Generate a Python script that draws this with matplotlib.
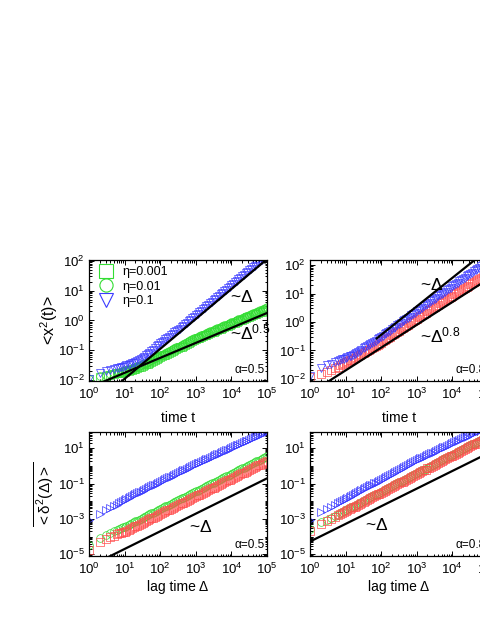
import numpy as np
import matplotlib
matplotlib.use("Agg")
import matplotlib.pyplot as plt
from matplotlib.ticker import LogLocator, LogFormatterSciNotation, NullFormatter

plt.rcParams['font.family'] = ['Liberation Sans', 'DejaVu Sans']
plt.rcParams['mathtext.fontset'] = 'custom'
plt.rcParams['mathtext.rm'] = 'Liberation Sans'
plt.rcParams['mathtext.it'] = 'Liberation Sans:italic'
plt.rcParams['mathtext.default'] = 'regular'

# time / lag time points (same sampling for every series)
t = [1, 2, 3, 4, 5, 6, 7, 8, 9,
     10, 11, 13, 14, 16, 18, 20, 22, 25, 28, 32, 35, 40, 45, 50, 56, 63, 71, 79, 89,
     100, 112, 126, 141, 158, 178, 200, 224, 251, 282, 316, 355, 398, 447, 501, 562, 631, 708, 794, 891,
     1000, 1122, 1259, 1413, 1585, 1778, 1995, 2239, 2512, 2818, 3162, 3548, 3981, 4467, 5012, 5623, 6310, 7079, 7943, 8913,
     10000, 11220, 12589, 14125, 15849, 17783, 19953, 22387, 25119, 28184, 31623, 35481, 39811, 44668, 50119, 56234, 63096, 70795, 79433, 89125,
     100000]

# log10 of the measured values, read off the figure
# top left, alpha=0.5, ensemble MSD
tl_green_sq = [-1.97, -1.88, -1.84, -1.81, -1.79, -1.77, -1.75, -1.74, -1.73,
               -1.72, -1.70, -1.69, -1.67, -1.65, -1.63, -1.61, -1.59, -1.57, -1.55, -1.52, -1.50, -1.47, -1.44, -1.41, -1.38, -1.35, -1.32, -1.29, -1.26,
               -1.23, -1.20, -1.17, -1.14, -1.11, -1.08, -1.05, -1.02, -0.99, -0.96, -0.93, -0.90, -0.87, -0.84, -0.81, -0.78, -0.75, -0.72, -0.69, -0.66,
               -0.63, -0.60, -0.58, -0.55, -0.53, -0.50, -0.47, -0.45, -0.42, -0.40, -0.37, -0.35, -0.32, -0.30, -0.27, -0.25, -0.22, -0.20, -0.17, -0.15,
               -0.12, -0.10, -0.07, -0.05, -0.02, 0.00, 0.03, 0.05, 0.08, 0.10, 0.13, 0.15, 0.18, 0.20, 0.23, 0.25, 0.28, 0.30, 0.33, 0.35,
               0.38]
tl_green_ci = [-1.95, -1.86, -1.81, -1.78, -1.76, -1.74, -1.72, -1.71, -1.69,
               -1.67, -1.66, -1.64, -1.62, -1.60, -1.58, -1.56, -1.53, -1.51, -1.49, -1.46, -1.43, -1.41, -1.38, -1.35, -1.32, -1.29, -1.26, -1.23, -1.20,
               -1.17, -1.14, -1.11, -1.08, -1.05, -1.02, -0.99, -0.96, -0.93, -0.90, -0.87, -0.84, -0.81, -0.78, -0.75, -0.72, -0.69, -0.66, -0.63, -0.60,
               -0.58, -0.55, -0.52, -0.50, -0.47, -0.44, -0.42, -0.39, -0.36, -0.34, -0.31, -0.29, -0.26, -0.24, -0.21, -0.19, -0.16, -0.14, -0.11, -0.09,
               -0.06, -0.04, -0.01, 0.01, 0.04, 0.06, 0.09, 0.11, 0.14, 0.16, 0.19, 0.21, 0.24, 0.26, 0.29, 0.31, 0.34, 0.36, 0.39, 0.41,
               0.44]
tl_blue = [-1.95, -1.76, -1.70, -1.66, -1.63, -1.60, -1.58, -1.56, -1.54,
           -1.52, -1.50, -1.48, -1.46, -1.43, -1.41, -1.38, -1.35, -1.32, -1.29, -1.25, -1.21, -1.17, -1.13, -1.08, -1.03, -0.97, -0.92, -0.86, -0.81,
           -0.76, -0.72, -0.67, -0.63, -0.58, -0.54, -0.49, -0.45, -0.40, -0.36, -0.31, -0.27, -0.22, -0.17, -0.12, -0.07, -0.02, 0.03, 0.08, 0.13,
           0.18, 0.23, 0.28, 0.33, 0.38, 0.43, 0.48, 0.53, 0.58, 0.63, 0.68, 0.73, 0.78, 0.83, 0.88, 0.93, 0.98, 1.03, 1.08, 1.13,
           1.18, 1.23, 1.28, 1.33, 1.38, 1.43, 1.48, 1.53, 1.58, 1.63, 1.68, 1.73, 1.78, 1.83, 1.88, 1.93, 1.98, 2.03, 2.08, 2.13,
           2.18]
# top right, alpha=0.8
tr_blue = [-1.90, -1.62, -1.52, -1.46, -1.41, -1.37, -1.34, -1.31, -1.29,
           -1.27, -1.24, -1.21, -1.18, -1.15, -1.12, -1.09, -1.05, -1.01, -0.97, -0.93, -0.89, -0.85, -0.81, -0.77, -0.73, -0.69, -0.65, -0.60, -0.56,
           -0.52, -0.48, -0.43, -0.39, -0.34, -0.30, -0.25, -0.21, -0.16, -0.12, -0.07, -0.03, 0.02, 0.06, 0.10, 0.15, 0.19, 0.24, 0.28, 0.33,
           0.37, 0.41, 0.46, 0.50, 0.55, 0.59, 0.63, 0.68, 0.72, 0.77, 0.81, 0.85, 0.90, 0.94, 0.99, 1.03, 1.07, 1.12, 1.16, 1.21,
           1.25, 1.29, 1.34, 1.38, 1.43, 1.47, 1.51, 1.56, 1.60, 1.65, 1.69, 1.73, 1.78, 1.82, 1.87, 1.91, 1.95, 2.00, 2.04, 2.09,
           2.13]
tr_red = [-1.93, -1.83, -1.75, -1.68, -1.62, -1.57, -1.52, -1.48, -1.44,
          -1.40, -1.37, -1.35, -1.32, -1.29, -1.26, -1.23, -1.20, -1.17, -1.14, -1.10, -1.06, -1.03, -0.99, -0.95, -0.91, -0.87, -0.83, -0.80, -0.76,
          -0.72, -0.68, -0.64, -0.59, -0.55, -0.51, -0.47, -0.43, -0.38, -0.34, -0.30, -0.26, -0.22, -0.17, -0.13, -0.09, -0.05, 0.00, 0.04, 0.08,
          0.12, 0.16, 0.20, 0.24, 0.29, 0.33, 0.37, 0.41, 0.45, 0.49, 0.53, 0.57, 0.61, 0.65, 0.69, 0.73, 0.77, 0.81, 0.85, 0.89,
          0.93, 0.97, 1.01, 1.05, 1.09, 1.13, 1.16, 1.20, 1.24, 1.28, 1.32, 1.36, 1.40, 1.44, 1.47, 1.51, 1.55, 1.59, 1.63, 1.66,
          1.70]
# bottom left, alpha=0.5, time averaged MSD
bl_blue = [-3.07, -2.70, -2.52, -2.40, -2.28, -2.19, -2.10, -2.03, -1.96,
           -1.90, -1.85, -1.80, -1.75, -1.70, -1.65, -1.60, -1.55, -1.50, -1.45, -1.40, -1.35, -1.30, -1.25, -1.20, -1.15, -1.10, -1.05, -1.00, -0.95,
           -0.90, -0.85, -0.80, -0.75, -0.70, -0.65, -0.60, -0.55, -0.50, -0.45, -0.40, -0.35, -0.30, -0.25, -0.20, -0.15, -0.10, -0.05, 0.00, 0.05,
           0.10, 0.15, 0.19, 0.24, 0.28, 0.33, 0.38, 0.42, 0.47, 0.52, 0.56, 0.61, 0.66, 0.70, 0.75, 0.79, 0.84, 0.89, 0.93, 0.98,
           1.03, 1.07, 1.12, 1.17, 1.21, 1.26, 1.31, 1.35, 1.40, 1.44, 1.49, 1.54, 1.58, 1.63, 1.68, 1.72, 1.77, 1.82, 1.86, 1.91,
           1.95]
bl_green = [-4.46, -4.09, -3.92, -3.80, -3.70, -3.62, -3.56, -3.50, -3.47,
            -3.44, -3.39, -3.34, -3.29, -3.24, -3.19, -3.14, -3.09, -3.04, -2.99, -2.94, -2.89, -2.84, -2.79, -2.74, -2.69, -2.64, -2.59, -2.54, -2.49,
            -2.44, -2.39, -2.34, -2.29, -2.24, -2.19, -2.14, -2.09, -2.04, -1.99, -1.94, -1.89, -1.84, -1.79, -1.74, -1.69, -1.64, -1.59, -1.54, -1.49,
            -1.44, -1.39, -1.34, -1.29, -1.24, -1.19, -1.14, -1.09, -1.04, -0.99, -0.94, -0.89, -0.84, -0.79, -0.74, -0.69, -0.64, -0.59, -0.54, -0.49,
            -0.44, -0.39, -0.34, -0.29, -0.24, -0.19, -0.14, -0.09, -0.04, 0.01, 0.06, 0.11, 0.16, 0.21, 0.26, 0.31, 0.36, 0.41, 0.46, 0.51,
            0.56]
bl_red = [-4.74, -4.28, -4.12, -4.02, -3.94, -3.87, -3.82, -3.78, -3.75,
          -3.72, -3.67, -3.62, -3.57, -3.52, -3.47, -3.42, -3.37, -3.32, -3.27, -3.22, -3.17, -3.12, -3.07, -3.02, -2.97, -2.92, -2.87, -2.82, -2.77,
          -2.72, -2.67, -2.62, -2.57, -2.52, -2.47, -2.42, -2.37, -2.32, -2.27, -2.22, -2.17, -2.12, -2.07, -2.02, -1.97, -1.92, -1.87, -1.82, -1.77,
          -1.72, -1.67, -1.62, -1.57, -1.52, -1.47, -1.42, -1.37, -1.32, -1.27, -1.22, -1.17, -1.12, -1.07, -1.02, -0.97, -0.92, -0.87, -0.82, -0.77,
          -0.72, -0.67, -0.62, -0.57, -0.52, -0.47, -0.42, -0.37, -0.32, -0.27, -0.22, -0.17, -0.12, -0.07, -0.02, 0.03, 0.08, 0.13, 0.18, 0.23,
          0.28]
# bottom right, alpha=0.8
br_blue = [-3.07, -2.61, -2.45, -2.33, -2.21, -2.11, -2.04, -1.97, -1.92,
           -1.87, -1.82, -1.76, -1.71, -1.65, -1.60, -1.54, -1.49, -1.43, -1.38, -1.32, -1.27, -1.21, -1.16, -1.10, -1.05, -0.99, -0.94, -0.88, -0.83,
           -0.77, -0.72, -0.66, -0.61, -0.55, -0.50, -0.44, -0.39, -0.33, -0.28, -0.22, -0.17, -0.11, -0.06, 0.00, 0.05, 0.11, 0.16, 0.22, 0.27,
           0.33, 0.38, 0.43, 0.47, 0.52, 0.57, 0.62, 0.67, 0.71, 0.76, 0.81, 0.86, 0.91, 0.95, 1.00, 1.05, 1.10, 1.15, 1.19, 1.24,
           1.29, 1.34, 1.39, 1.43, 1.48, 1.53, 1.58, 1.63, 1.67, 1.72, 1.77, 1.82, 1.87, 1.91, 1.96, 2.01, 2.06, 2.11, 2.15, 2.20,
           2.25]
br_green = [-3.54, -3.17, -3.03, -2.92, -2.83, -2.75, -2.69, -2.63, -2.57,
            -2.51, -2.46, -2.40, -2.35, -2.30, -2.25, -2.19, -2.14, -2.09, -2.04, -1.98, -1.93, -1.88, -1.83, -1.77, -1.72, -1.67, -1.62, -1.56, -1.51,
            -1.46, -1.41, -1.35, -1.30, -1.25, -1.20, -1.14, -1.09, -1.04, -0.99, -0.93, -0.88, -0.83, -0.78, -0.72, -0.67, -0.62, -0.57, -0.51, -0.46,
            -0.41, -0.36, -0.30, -0.25, -0.20, -0.15, -0.09, -0.04, 0.01, 0.06, 0.12, 0.17, 0.22, 0.27, 0.33, 0.38, 0.43, 0.48, 0.54, 0.59,
            0.64, 0.69, 0.75, 0.80, 0.85, 0.90, 0.96, 1.01, 1.06, 1.11, 1.17, 1.22, 1.27, 1.32, 1.38, 1.43, 1.48, 1.53, 1.59, 1.64,
            1.69]
br_red = [-3.67, -3.26, -3.10, -2.98, -2.88, -2.80, -2.74, -2.68, -2.62,
          -2.56, -2.51, -2.45, -2.40, -2.35, -2.30, -2.24, -2.19, -2.14, -2.09, -2.03, -1.98, -1.93, -1.88, -1.82, -1.77, -1.72, -1.67, -1.61, -1.56,
          -1.51, -1.46, -1.40, -1.35, -1.30, -1.25, -1.19, -1.14, -1.09, -1.04, -0.98, -0.93, -0.88, -0.83, -0.77, -0.72, -0.67, -0.62, -0.56, -0.51,
          -0.46, -0.41, -0.35, -0.30, -0.25, -0.20, -0.14, -0.09, -0.04, 0.01, 0.07, 0.12, 0.17, 0.22, 0.28, 0.33, 0.38, 0.43, 0.49, 0.54,
          0.59, 0.64, 0.70, 0.75, 0.80, 0.85, 0.91, 0.96, 1.01, 1.06, 1.12, 1.17, 1.22, 1.27, 1.33, 1.38, 1.43, 1.48, 1.54, 1.59,
          1.64]

# guide lines: log10 prefactor, exponent, t range
tl_guides = [(-2.95, 1.0, 1, 1e5), (-2.25, 0.5, 1, 1e5)]
tr_guides = [(-2.45, 1.0, 75, 1e5), (-2.50, 0.8, 1, 1e5)]
bl_guides = [(-5.70, 1.0, 1, 1e5)]
br_guides = [(-4.28, 1.0, 1, 1e5)]

GREEN = '#33dd33'
RED = '#ff4d4d'
BLUE = '#3a3aff'

fig = plt.figure(figsize=(4.8, 6.21), dpi=100)
W, H = 0.3708, 0.1948
ax_tl = fig.add_axes([0.1854, 0.3865, W, H])
ax_tr = fig.add_axes([0.6458, 0.3865, W, H])
ax_bl = fig.add_axes([0.1854, 0.1047, W, 0.1997])
ax_br = fig.add_axes([0.6458, 0.1047, W, 0.1997])


def draw(ax, series, guides):
    for vals, marker, color in series:
        ax.plot(t, np.power(10.0, vals), linestyle='none', marker=marker, ms=5.5,
                mfc='none', mec=color, mew=0.5)
    for a, b, t0, t1 in guides:
        tt = np.array([t0, t1])
        ax.plot(tt, 10.0 ** a * tt ** b, color='black', lw=1.6)


def style(ax, ylim, ymajor):
    ax.set_xscale('log')
    ax.set_yscale('log')
    ax.set_xlim(1, 1e5)
    ax.set_ylim(*ylim)
    ax.xaxis.set_major_locator(LogLocator(base=10, numticks=10))
    ax.xaxis.set_minor_locator(LogLocator(base=10, subs=np.arange(2, 10), numticks=10))
    ax.yaxis.set_major_locator(plt.FixedLocator(ymajor))
    ax.yaxis.set_minor_locator(LogLocator(base=10, subs=np.arange(1, 10), numticks=20))
    ax.xaxis.set_major_formatter(LogFormatterSciNotation())
    ax.yaxis.set_major_formatter(LogFormatterSciNotation())
    ax.xaxis.set_minor_formatter(NullFormatter())
    ax.yaxis.set_minor_formatter(NullFormatter())
    ax.tick_params(which='both', direction='in', top=True, right=True, width=0.7,
                   labelsize=9.5, pad=3)
    ax.tick_params(axis='x', which='both', pad=4.5)
    ax.tick_params(which='major', length=3.5)
    ax.tick_params(which='minor', length=1.8)
    for s in ax.spines.values():
        s.set_linewidth(0.9)


draw(ax_tl, [(tl_green_ci, 'o', GREEN), (tl_green_sq, 's', GREEN), (tl_blue, 'v', BLUE)], tl_guides)
draw(ax_tr, [(tr_red, 's', RED), (tr_blue, 'v', BLUE)], tr_guides)
draw(ax_bl, [(bl_green, 'o', GREEN), (bl_red, 's', RED), (bl_blue, '>', BLUE)], bl_guides)
draw(ax_br, [(br_green, 'o', GREEN), (br_red, 's', RED), (br_blue, '>', BLUE)], br_guides)

style(ax_tl, (0.0095, 105), [1e-2, 1e-1, 1e0, 1e1, 1e2])
style(ax_tr, (0.0085, 150), [1e-2, 1e-1, 1e0, 1e1, 1e2])
style(ax_bl, (8e-6, 85), [1e-5, 1e-3, 1e-1, 1e1])
style(ax_br, (8e-6, 85), [1e-5, 1e-3, 1e-1, 1e1])

# legend
ax_tl.plot([], [], 's', ms=9.5, mfc='none', mec=GREEN, mew=0.8, label='η=0.001')
ax_tl.plot([], [], 'o', ms=9.5, mfc='none', mec=GREEN, mew=0.8, label='η=0.01')
ax_tl.plot([], [], 'v', ms=9.5, mfc='none', mec=BLUE, mew=0.8, label='η=0.1')
ax_tl.legend(loc='upper left', frameon=False, fontsize=9, handlelength=1.0,
             handletextpad=0.8, labelspacing=0.2, borderaxespad=0.2,
             bbox_to_anchor=(0.02, 1.01))

# labels
ax_tl.set_ylabel(r'<x$^2$(t)>', fontsize=11.5)
ax_tl.yaxis.set_label_coords(-0.165, 0.5)
ax_bl.set_ylabel(r'$\overline{<\delta^{2}(\Delta)>}$', fontsize=11)
ax_bl.yaxis.set_label_coords(-0.185, 0.5)
for ax in (ax_tl, ax_tr):
    ax.set_xlabel('time t', fontsize=10)
    ax.xaxis.set_label_coords(0.5, -0.25)
for ax in (ax_bl, ax_br):
    ax.set_xlabel('lag time Δ', fontsize=10)
    ax.xaxis.set_label_coords(0.5, -0.19)

# annotations
def note(ax, x, y, s):
    ax.text(x, y, '~' + s, transform=ax.transAxes, fontsize=12.5, va='baseline')


note(ax_tl, 0.79, 0.65, r'$\Delta$')
note(ax_tl, 0.79, 0.34, r'$\Delta^{0.5}$')
note(ax_tr, 0.62, 0.75, r'$\Delta$')
note(ax_tr, 0.62, 0.32, r'$\Delta^{0.8}$')
note(ax_bl, 0.56, 0.19, r'$\Delta$')
note(ax_br, 0.31, 0.21, r'$\Delta$')
for ax, a in ((ax_tl, '0.5'), (ax_tr, '0.8'), (ax_bl, '0.5'), (ax_br, '0.8')):
    ax.text(0.985, 0.04, 'α=' + a, transform=ax.transAxes, fontsize=8.5, ha='right', va='bottom')

fig.savefig('out.png', dpi=100)
